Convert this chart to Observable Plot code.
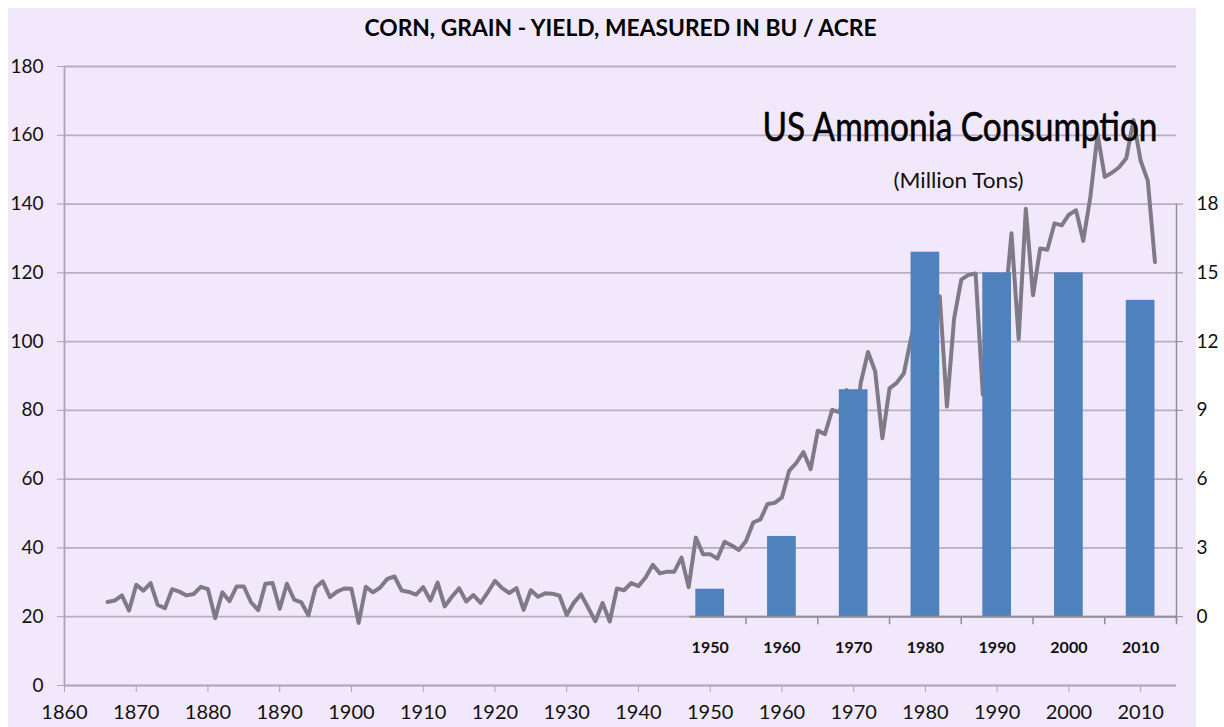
<!DOCTYPE html>
<html><head><meta charset="utf-8">
<script src="https://cdn.jsdelivr.net/npm/d3@7"></script>
<script src="https://cdn.jsdelivr.net/npm/@observablehq/plot@0.6"></script>
<style>
html,body{margin:0;padding:0;background:#fff;}
#wrap{position:relative;width:1224px;height:727px;overflow:hidden;}
#panel{position:absolute;left:8px;top:8px;width:1188px;height:719px;background:#f1e8fc;}
#chart{position:absolute;left:0;top:0;}
</style></head><body>
<div id="wrap"><div id="panel"></div><div id="chart"></div></div>
<script>
// ---- data ----
const years = [];
for (let y = 1866; y <= 2012; y++) years.push(y);
const yields = [
 24.3,24.7,26.2,21.8,29.3,27.6,29.8,23.4,22.5,28.0, // 1866-1875
 27.3,26.2,26.6,28.7,28.0,19.6,27.1,24.5,28.8,28.8, // 1876-1885
 24.2,21.9,29.6,29.8,22.3,29.6,25.0,24.2,20.4,28.5, // 1886-1895
 30.3,25.7,27.3,28.2,28.1,18.2,28.7,27.1,28.5,31.0, // 1896-1905
 31.7,27.6,27.2,26.4,28.6,24.7,29.9,23.0,25.8,28.3, // 1906-1915
 24.4,26.3,24.0,27.1,30.4,28.3,26.9,28.3,22.0,27.7, // 1916-1925
 25.8,26.8,26.7,26.1,20.5,24.1,26.5,22.6,18.7,24.0, // 1926-1935
 18.6,28.2,27.7,29.8,28.9,31.4,35.1,32.6,33.1,33.1, // 1936-1945
 37.2,28.6,43.0,38.2,38.2,36.9,41.8,40.7,39.4,42.0, // 1946-1955
 47.4,48.3,52.8,53.1,54.7,62.4,64.7,67.9,62.9,74.1, // 1956-1965
 73.1,80.1,79.5,85.9,72.4,88.1,97.0,91.3,71.9,86.4, // 1966-1975
 88.0,90.8,101.0,109.5,91.0,108.9,113.2,81.1,106.7,118.0, // 1976-1985
 119.4,119.8,84.6,116.3,118.5,108.6,131.5,100.7,138.6,113.5, // 1986-1995
 127.1,126.7,134.4,133.8,136.9,138.2,129.3,142.2,160.3,147.9, // 1996-2005
 149.1,150.7,153.3,164.4,152.6,146.8,123.1 // 2006-2012
];
const ammoniaYears = [1950, 1960, 1970, 1980, 1990, 2000, 2010];
const ammonia = [1.2, 3.5, 9.9, 15.9, 15.0, 15.0, 13.8];
const leftTicks = [0, 20, 40, 60, 80, 100, 120, 140, 160, 180];
const gridTicks = [20, 40, 60, 80, 100, 120, 140, 160, 180];
const xTicks = [1860, 1870, 1880, 1890, 1900, 1910, 1920, 1930, 1940, 1950, 1960, 1970, 1980, 1990, 2000, 2010];
const rightTicks = [0, 3, 6, 9, 12, 15, 18];
const bandEdges = [1955, 1965, 1975, 1985, 1995, 2005, 2015];
const title = "CORN, GRAIN - YIELD, MEASURED IN BU / ACRE";
const overlayTitle = "US Ammonia Consumption";
const overlaySub = "(Million Tons)";

// right axis (0-18 Mt) shares the plot with the left axis: 0 Mt sits on 20, 18 Mt on 140
const toLeft = v => 20 + v * 120 / 18;
const fromLeft = d => (d - 20) * 18 / 120;

const yieldData = years.map((y, i) => ({year: y, value: yields[i]}));
const ammoniaData = ammoniaYears.map((y, i) => ({year: y, value: ammonia[i]}));

const font = "Lato, 'Open Sans', sans-serif";
const chart = Plot.plot({
  width: 1224, height: 727,
  marginLeft: 64, marginRight: 48, marginTop: 66, marginBottom: 42,
  style: {background: "transparent", fontFamily: font, color: "#111"},
  x: {domain: [1860, 2015], label: null},
  y: {domain: [0, 180], label: null},
  marks: [
    Plot.gridY(gridTicks, {stroke: "#b6afc0", strokeOpacity: 1, strokeWidth: 1.8}),
    Plot.ruleX([1860], {y1: 0, y2: 180, stroke: "#aaa4b4", strokeWidth: 1.8}),
    Plot.ruleY([0], {stroke: "#aaa4b4", strokeWidth: 1.8}),
    Plot.axisY(leftTicks, {anchor: "left", label: null, tickSize: 7, tickPadding: 14, fontSize: 19, stroke: "#aaa4b4", fill: "#111"}),
    Plot.axisX(xTicks, {anchor: "bottom", label: null, tickSize: 7, tickPadding: 12, fontSize: 20, tickFormat: d => String(d), stroke: "#aaa4b4", fill: "#111"}),
    // yield line (drawn beneath the bars)
    Plot.line(yieldData, {x: "year", y: "value", stroke: "#7f7b86", strokeWidth: 4, strokeLinejoin: "round"}),
    // bars (right axis)
    Plot.rectY(ammoniaData, {x1: d => d.year - 2, x2: d => d.year + 2, y1: toLeft(0), y2: d => toLeft(d.value), fill: "#4f81bd"}),
    Plot.ruleY([toLeft(0)], {x1: 1947.2, x2: 2015, stroke: "#8f8f96", strokeWidth: 2}),
    Plot.ruleX(bandEdges, {y1: toLeft(0), y2: toLeft(-0.35), stroke: "#8f8f96", strokeWidth: 1.5}),
    Plot.ruleX([2015], {y1: toLeft(-0.2), y2: toLeft(18), stroke: "#8f8f96", strokeWidth: 1.5}),
    Plot.axisY(rightTicks.map(toLeft), {anchor: "right", label: null, tickSize: 6, tickPadding: 14, fontSize: 19, tickFormat: d => String(Math.round(fromLeft(d))), stroke: "#8f8f96", fill: "#111"}),
    Plot.text(ammoniaData, {x: "year", y: toLeft(0), dy: 31, text: d => String(d.year), fontSize: 16, fontWeight: "bold", fill: "#111"}),
    // titles
    Plot.text([title], {frameAnchor: "top", lineAnchor: "middle", dy: -38, fontSize: 22, fontWeight: "bold", fill: "#000"}),
    Plot.text([overlayTitle], {frameAnchor: "top-right", lineAnchor: "middle", dx: -19, dy: 62, textAnchor: "end", fontSize: 40, fill: "#000", stroke: "#000", strokeWidth: 0.6}),
    Plot.text([overlaySub], {frameAnchor: "top-right", lineAnchor: "middle", dx: -153, dy: 115, textAnchor: "end", fontSize: 21, fill: "#111"})
  ]
});
document.getElementById("chart").appendChild(chart);
const fit = (txt, len) => d3.select(chart).selectAll("text").filter(function(){ return this.textContent === txt; })
  .attr("textLength", len).attr("lengthAdjust", "spacingAndGlyphs");
fit(title, 512);
fit(overlayTitle, 395);
fit(overlaySub, 130);
</script>
</body></html>
